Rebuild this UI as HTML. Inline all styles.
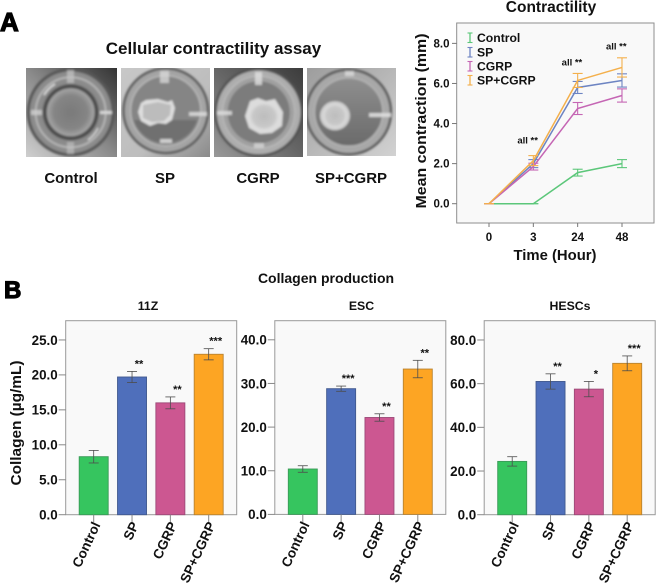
<!DOCTYPE html>
<html>
<head>
<meta charset="utf-8">
<style>
html,body{margin:0;padding:0;background:#fff;width:656px;height:583px;overflow:hidden}
svg{display:block;filter:blur(0.35px);font-family:"Liberation Sans",sans-serif;font-weight:bold;fill:#111}
</style>
</head>
<body>
<svg id="fig" xmlns="http://www.w3.org/2000/svg" width="656" height="583" viewBox="0 0 656 583">
<defs>
<filter id="soft" x="-10%" y="-10%" width="120%" height="120%"><feGaussianBlur stdDeviation="1.1"/></filter>
<linearGradient id="bg1" x1="0" y1="1" x2="1" y2="0"><stop offset="0" stop-color="#cfcfcf"/><stop offset="0.5" stop-color="#8a8a8a"/><stop offset="1" stop-color="#333"/></linearGradient>
<linearGradient id="bg2" x1="0" y1="0" x2="1" y2="1"><stop offset="0" stop-color="#c8c8c8"/><stop offset="0.6" stop-color="#bdbdbd"/><stop offset="1" stop-color="#8a8a8a"/></linearGradient>
<linearGradient id="bg3" x1="0" y1="1" x2="1" y2="0"><stop offset="0" stop-color="#999"/><stop offset="0.5" stop-color="#666"/><stop offset="1" stop-color="#3c3c3c"/></linearGradient>
<linearGradient id="bg4" x1="0" y1="0" x2="1" y2="1"><stop offset="0" stop-color="#9d9d9d"/><stop offset="1" stop-color="#d2d2d2"/></linearGradient>
<linearGradient id="fl1" x1="0" y1="0" x2="0" y2="1"><stop offset="0" stop-color="#8f8f8f"/><stop offset="1" stop-color="#6a6a6a"/></linearGradient>
<radialGradient id="ctrlBlob"><stop offset="0" stop-color="#7a7a7a"/><stop offset="0.7" stop-color="#858585"/><stop offset="1" stop-color="#a6a6a6"/></radialGradient>
<radialGradient id="lightBlob"><stop offset="0" stop-color="#bdbdbd"/><stop offset="0.75" stop-color="#c8c8c8"/><stop offset="1" stop-color="#e0e0e0"/></radialGradient>
<clipPath id="c1"><rect x="26" y="68" width="91" height="89"/></clipPath>
<clipPath id="c2"><rect x="121" y="68" width="89" height="89"/></clipPath>
<clipPath id="c3"><rect x="214" y="68" width="89" height="89"/></clipPath>
<clipPath id="c4"><rect x="307" y="68" width="89" height="88"/></clipPath>
</defs>

<text x="0" y="31" font-size="26" stroke="#000" stroke-width="1.2" fill="#000">A</text>
<text x="4" y="298" font-size="24" stroke="#000" stroke-width="1.2" fill="#000">B</text>
<text x="213.5" y="54" font-size="17" text-anchor="middle">Cellular contractility assay</text>

<g clip-path="url(#c1)">
<rect x="26" y="68" width="91" height="89" fill="url(#bg1)"/>
<g filter="url(#soft)">
<circle cx="70.7" cy="112.3" r="44" fill="#565656"/>
<circle cx="70.7" cy="112.3" r="41" fill="#8c8c8c"/>
<circle cx="70.7" cy="112.3" r="35" fill="none" stroke="#bdbdbd" stroke-width="1.6"/>
<circle cx="70.7" cy="112.3" r="31" fill="#8a8a8a"/>
<circle cx="70.7" cy="112.3" r="28" fill="#4d4d4d"/>
<circle cx="70.7" cy="112.3" r="24" fill="url(#ctrlBlob)"/>
<path d="M44 95 A32 32 0 0 1 55 84" fill="none" stroke="#e8e8e8" stroke-width="1.4"/>
<path d="M88 140 A32 32 0 0 0 98 128" fill="none" stroke="#dcdcdc" stroke-width="1.4"/>
<rect x="67" y="70" width="7" height="13" fill="#c4c4c4" opacity=".7"/>
<rect x="67" y="142" width="7" height="12" fill="#c4c4c4" opacity=".6"/>
<rect x="100" y="111" width="12" height="3" fill="#d6d6d6"/>
<rect x="31" y="110" width="11" height="5" fill="#cfcfcf" opacity=".8"/>
</g></g>

<g clip-path="url(#c2)">
<rect x="121" y="68" width="89" height="89" fill="url(#bg2)"/>
<g filter="url(#soft)">
<circle cx="165.7" cy="110.7" r="43.5" fill="#5c5c5c"/>
<circle cx="165.7" cy="110.7" r="41" fill="#a4a4a4"/>
<circle cx="165.7" cy="110.7" r="35" fill="#858585" stroke="#c4c4c4" stroke-width="1"/>
<path d="M134 120 A33 33 0 0 0 197 120 Z" fill="#6f6f6f"/>
<path d="M141 103 L146 100 L158 99 L168 102 L172 100 L175 108 L172 120 L166 124 L158 123 L150 126 L141 121 L138 112 Z" fill="#dedede"/>
<path d="M143 105 L158 102 L171 105 L170 115 L164 121 L152 122 L143 118 Z" fill="#bcbcbc"/>
<rect x="160" y="71" width="9" height="12" fill="#dcdcdc" opacity=".75"/>
<rect x="189" y="112" width="18" height="4" fill="#dcdcdc" opacity=".85"/>
<rect x="160" y="139" width="12" height="4" fill="#e6e6e6" opacity=".8"/>
</g></g>

<g clip-path="url(#c3)">
<rect x="214" y="68" width="89" height="89" fill="url(#bg3)"/>
<g filter="url(#soft)">
<circle cx="258.7" cy="112.3" r="44.5" fill="#4f4f4f"/>
<circle cx="258.7" cy="112.3" r="42" fill="#adadad"/>
<circle cx="258.7" cy="112.3" r="36" fill="#a0a0a0" stroke="#c0c0c0" stroke-width="1"/>
<circle cx="258.7" cy="112.3" r="31" fill="#7c7c7c"/>
<path d="M250 101 L258 98 L266 101 L275 99 L283 112 L282 126 L272 133 L260 134 L249 128 L245 116 Z" fill="#dcdcdc"/>
<ellipse cx="264" cy="116.5" rx="15" ry="14" fill="url(#lightBlob)"/>
<rect x="255" y="72" width="7" height="13" fill="#e0e0e0" opacity=".8"/>
<rect x="217" y="111" width="15" height="4" fill="#dcdcdc" opacity=".85"/>
<rect x="254" y="143" width="10" height="5" fill="#dcdcdc" opacity=".7"/>
</g></g>

<g clip-path="url(#c4)">
<rect x="307" y="68" width="89" height="88" fill="url(#bg4)"/>
<g filter="url(#soft)">
<circle cx="348.7" cy="112" r="43.5" fill="#585858"/>
<circle cx="348.7" cy="112" r="41" fill="#a8a8a8"/>
<circle cx="348.7" cy="112" r="34" fill="url(#fl1)" stroke="#bdbdbd" stroke-width="1"/>
<ellipse cx="335" cy="115.7" rx="15" ry="14.5" fill="#cfcfcf"/>
<ellipse cx="335" cy="115.7" rx="12" ry="12" fill="url(#lightBlob)"/>
<rect x="369" y="113" width="22" height="4" fill="#dedede" opacity=".9"/>
<rect x="345" y="71" width="9" height="5" fill="#dcdcdc" opacity=".8"/>
</g></g>

<text x="71" y="183" font-size="15" text-anchor="middle">Control</text>
<text x="165" y="183" font-size="15" text-anchor="middle">SP</text>
<text x="258" y="183" font-size="15" text-anchor="middle">CGRP</text>
<text x="351" y="183" font-size="15" text-anchor="middle">SP+CGRP</text>

<text x="551" y="12" font-size="15.5" text-anchor="middle">Contractility</text>
<text x="326" y="283" font-size="14" text-anchor="middle">Collagen production</text>
<text transform="translate(21 423) rotate(-90)" font-size="15" text-anchor="middle" textLength="125" lengthAdjust="spacingAndGlyphs">Collagen (µg/mL)</text>
<g id="lineChart"></g>
<g id="barCharts"></g>
</svg>

<script>
// Contractility line chart data
const timeLabels = ['0', '3', '24', '48'];
const lineSeriesNames = ['Control', 'SP', 'CGRP', 'SP+CGRP'];
const controlMeans = [0, 0, 1.55, 2.0];
const spMeans = [0, 2.0, 5.8, 6.15];
const cgrpMeans = [0, 1.85, 4.75, 5.4];
const spCgrpMeans = [0, 2.15, 6.15, 6.8];
const controlErrors = [0, 0, 0.17, 0.2];
const spErrors = [0, 0.2, 0.3, 0.33];
const cgrpErrors = [0, 0.17, 0.3, 0.33];
const spCgrpErrors = [0, 0.25, 0.35, 0.48];
const lineTicks = [0, 2, 4, 6, 8];
const lineTickLabels = ['0.0', '2.0', '4.0', '6.0', '8.0'];
const annotationLabels = ['all **', 'all **', 'all **'];
const annotationValues = [3.0, 6.9, 7.7];

// Collagen bar chart data
const barCategories = ['Control', 'SP', 'CGRP', 'SP+CGRP'];
const z11Values = [8.3, 19.7, 16.0, 22.95];
const z11Errors = [0.9, 0.8, 0.85, 0.8];
const z11Stars = ['', '**', '**', '***'];
const z11Ticks = [0, 5, 10, 15, 20, 25];
const z11TickLabels = ['0.0', '5.0', '10.0', '15.0', '20.0', '25.0'];
const escValues = [10.4, 28.8, 22.2, 33.3];
const escErrors = [0.75, 0.6, 0.85, 2.0];
const escStars = ['', '***', '**', '**'];
const escTicks = [0, 10, 20, 30, 40];
const escTickLabels = ['0.0', '10.0', '20.0', '30.0', '40.0'];
const hescValues = [24.4, 61, 57.5, 69.3];
const hescErrors = [2.15, 3.5, 3.5, 3.4];
const hescStars = ['', '**', '*', '***'];
const hescTicks = [0, 20, 40, 60, 80];
const hescTickLabels = ['0.0', '20.0', '40.0', '60.0', '80.0'];
const barTitles = ['11Z', 'ESC', 'HESCs'];

const NS = 'http://www.w3.org/2000/svg';
function mk(tag, parent) {
  const e = document.createElementNS(NS, tag);
  parent.appendChild(e);
  return e;
}
function ln(parent, x1, y1, x2, y2, color, w) {
  const e = mk('line', parent);
  e.setAttribute('x1', x1); e.setAttribute('y1', y1);
  e.setAttribute('x2', x2); e.setAttribute('y2', y2);
  e.setAttribute('stroke', color); e.setAttribute('stroke-width', w);
  return e;
}
function tx(parent, x, y, str, size, anchor) {
  const e = mk('text', parent);
  e.setAttribute('x', x); e.setAttribute('y', y);
  e.setAttribute('font-size', size);
  e.setAttribute('text-anchor', anchor);
  e.textContent = str;
  return e;
}
function box(parent, x, y, w, h, fill, stroke, sw) {
  const e = mk('rect', parent);
  e.setAttribute('x', x); e.setAttribute('y', y);
  e.setAttribute('width', w); e.setAttribute('height', h);
  e.setAttribute('fill', fill);
  e.setAttribute('stroke', stroke);
  e.setAttribute('stroke-width', sw);
  return e;
}

/* ---------- line chart ---------- */
(function () {
  const g = document.getElementById('lineChart');
  const yScale = v => 203.7 - v * 20.04;
  const xScale = i => 489 + i * 44.33;
  const frame = box(g, 456.7, 23, 197.3, 200, '#f9f9f9', '#8e8e8e', 1);
  
  

  lineTicks.forEach((t, i) => {
    const mark = ln(g, 452, yScale(t), 456.7, yScale(t), '#777', 1);
    
    
    const lab = tx(g, 449.5, yScale(t) + 4, lineTickLabels[i], 11.5, 'end');
    
    
  });
  timeLabels.forEach((t, i) => {
    const mark = ln(g, xScale(i), 223, xScale(i), 227, '#777', 1);
    
    
    const lab = tx(g, xScale(i), 241, t, 11.5, 'middle');
    
    
  });

  const yTitle = tx(g, 0, 0, 'Mean contraction (mm)', 14.5, 'middle');
  yTitle.setAttribute('transform', 'translate(426 121) rotate(-90)');
  yTitle.setAttribute('textLength', '175');
  yTitle.setAttribute('lengthAdjust', 'spacingAndGlyphs');
  
  
  const xTitle = tx(g, 555, 260, 'Time (Hour)', 14.5, 'middle');
  xTitle.setAttribute('textLength', '83');
  xTitle.setAttribute('lengthAdjust', 'spacingAndGlyphs');
  
  

  const means = [controlMeans, spMeans, cgrpMeans, spCgrpMeans];
  const errs = [controlErrors, spErrors, cgrpErrors, spCgrpErrors];
  const colors = ['#5cc77a', '#6d84c2', '#c566b4', '#f4b04c'];
  means.forEach((series, s) => {
    const path = mk('polyline', g);
    path.setAttribute('points', series.map((v, i) => xScale(i) + ',' + yScale(v)).join(' '));
    path.setAttribute('fill', 'none');
    path.setAttribute('stroke', colors[s]);
    path.setAttribute('stroke-width', 1.5);
    
    
    series.forEach((v, i) => {
      const e = errs[s][i];
      const eg = mk('g', g);
      
      
      const x = xScale(i);
      ln(eg, x, yScale(v - e), x, yScale(v + e), colors[s], 1.1);
      ln(eg, x - 5, yScale(v - e), x + 5, yScale(v - e), colors[s], 1.1);
      ln(eg, x - 5, yScale(v + e), x + 5, yScale(v + e), colors[s], 1.1);
    });
    const ly = [42, 56.5, 70.5, 84.5][s];
    const kg = mk('g', g);
    
    
    ln(kg, 470, ly - 9, 470, ly + 0.5, colors[s], 1.3);
    ln(kg, 467.5, ly - 9, 472.5, ly - 9, colors[s], 1.1);
    ln(kg, 467.5, ly + 0.5, 472.5, ly + 0.5, colors[s], 1.1);
    tx(kg, 477, ly, lineSeriesNames[s], 12.2, 'start');
  });
  annotationLabels.forEach((a, i) => {
    const lab = tx(g, xScale(i + 1) - 16, yScale(annotationValues[i]), a, 9.5, 'start');
    
    
  });
})();

/* ---------- bar charts ---------- */
function barChart(title, titleX, values, errors, stars, ticks, tickLabels, left, top, y0, unit) {
  const root = document.getElementById('barCharts');
  const g = mk('g', root);
  
  
  const yScale = v => y0 - v * unit;
  const xScale = i => left + 28 + i * 38.33;
  const colors = ['#36c55f', '#4f6fbb', '#cc5791', '#fda523'];
  const edges = ['#3a9a58', '#41598f', '#9c4a78', '#b98330'];

  const frame = box(g, left, top, 171, y0 - top, '#f9f9f9', '#999', 1);
  
  
  const head = tx(g, titleX, 310, title, 12.3, 'middle');
  
  

  ticks.forEach((t, i) => {
    const mark = ln(g, left - 7, yScale(t), left, yScale(t), '#888', 1);
    
    
    const lab = tx(g, left - 8, yScale(t) + 4.8, tickLabels[i], 13.4, 'end');
    
    
  });

  values.forEach((v, i) => {
    const x = xScale(i);
    const bar = box(g, x - 14.5, yScale(v), 29, y0 - yScale(v), colors[i], edges[i], 0.9);
    
    

    const eg = mk('g', g);
    
    
    const hi = yScale(v + errors[i]);
    const lo = yScale(v - errors[i]);
    ln(eg, x, lo, x, hi, '#4d4d4d', 0.8);
    ln(eg, x - 5, lo, x + 5, lo, '#4d4d4d', 0.8);
    ln(eg, x - 5, hi, x + 5, hi, '#4d4d4d', 0.8);

    const mark = ln(g, x, y0, x, y0 + 7.5, '#888', 1);
    
    

    const cat = tx(g, 0, 0, barCategories[i], 13.6, 'end');
    cat.setAttribute('transform', 'translate(' + (x + 7) + ' ' + (y0 + 10) + ') rotate(-65)');
    
    

    if (stars[i]) {
      const st = tx(g, x + 7, hi - 4, stars[i], 11, 'middle');
      
      
    }
  });
}
barChart(barTitles[0], 148, z11Values, z11Errors, z11Stars, z11Ticks, z11TickLabels, 65.7, 320.7, 514.7, 6.99);
barChart(barTitles[1], 361.5, escValues, escErrors, escStars, escTicks, escTickLabels, 274.8, 320.7, 514.4, 4.365);
barChart(barTitles[2], 570, hescValues, hescErrors, hescStars, hescTicks, hescTickLabels, 484.2, 320.7, 514.7, 2.184);
</script>
</body>
</html>
